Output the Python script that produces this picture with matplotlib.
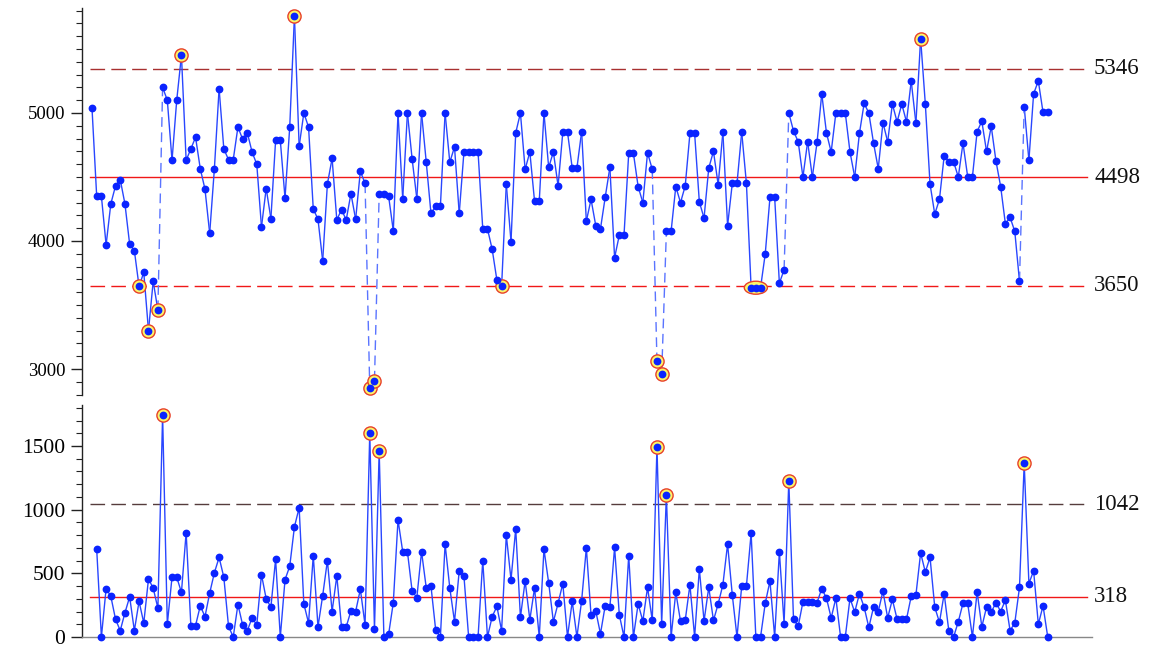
import numpy as np
import matplotlib
matplotlib.use("Agg")
import matplotlib.pyplot as plt
from matplotlib.collections import LineCollection
from matplotlib.patches import Ellipse
from matplotlib.ticker import MultipleLocator

# Individual measurements
values = [
    5040, 4350, 4350, 3970, 4290, 4430, 4480, 4290, 3975, 3925,
    3645, 3755, 3300, 3685, 3460, 5200, 5100, 4630, 5100, 5450,
    4630, 4720, 4810, 4565, 4405, 4060, 4565, 5190, 4720, 4635,
    4635, 4890, 4795, 4845, 4695, 4600, 4110, 4410, 4175, 4785,
    4785, 4335, 4890, 5755, 4740, 5000, 4890, 4250, 4170, 3845,
    4445, 4645, 4165, 4245, 4165, 4370, 4170, 4545, 4450, 2850,
    2910, 4370, 4370, 4350, 4080, 5000, 4330, 5000, 4640, 4330,
    5000, 4615, 4215, 4270, 4270, 5000, 4615, 4735, 4215, 4695,
    4695, 4695, 4695, 4095, 4095, 3935, 3695, 3645, 4445, 3995,
    4845, 5000, 4560, 4695, 4310, 4310, 5000, 4575, 4695, 4430,
    4850, 4850, 4570, 4570, 4855, 4155, 4325, 4120, 4095, 4340,
    4575, 3870, 4045, 4045, 4685, 4685, 4425, 4300, 4690, 4560,
    3065, 2960, 4075, 4075, 4425, 4300, 4430, 4840, 4840, 4305,
    4180, 4570, 4700, 4440, 4850, 4120, 4450, 4450, 4850, 4450,
    3635, 3635, 3635, 3900, 4340, 4340, 3670, 3775, 5000, 4860,
    4775, 4500, 4775, 4500, 4770, 5150, 4845, 4695, 5000, 5000,
    5000, 4695, 4500, 4840, 5075, 5000, 4765, 4565, 4925, 4775,
    5070, 4930, 5070, 4930, 5250, 4920, 5580, 5070, 4445, 4210,
    4325, 4665, 4620, 4620, 4500, 4765, 4500, 4500, 4855, 4935,
    4700, 4895, 4625, 4425, 4135, 4185, 4075, 3685, 5050, 4630,
    5150, 5250, 5005, 5005,
]

# Control limits
x_center = 4498
x_ucl = 5346
x_lcl = 3650
mr_center = 318
mr_ucl = 1042

x = np.array(values, dtype=float)
idx = np.arange(len(x))
mr = np.abs(np.diff(x))          # moving range of two
mr_idx = idx[1:]

plt.rcParams["font.family"] = ["Liberation Serif", "DejaVu Serif"]
FS_TOP = 13.5
FS_BOT = 15.5
FS_RIGHT = 16.5

BLUE = "#0a23ff"
LINE_BLUE = "#2946ff"
DASH_BLUE = "#5a74ff"
RED = "#f01818"
UCL_RED = "#a83030"
DARK = "#553c3c"

fig = plt.figure(figsize=(11.5, 6.45), dpi=100)
W, H = 1150, 645
left_px, right_px = 82, 1092
xl = (-2.12, 212.4)

def px_axes(top_px, bottom_px):
    return fig.add_axes([left_px / W, 1 - bottom_px / H,
                         (right_px - left_px) / W, (bottom_px - top_px) / H])

ax1 = px_axes(8, 395)
ax2 = px_axes(405, 637)

for ax, fs in ((ax1, FS_TOP), (ax2, FS_BOT)):
    ax.set_xlim(*xl)
    ax.set_facecolor("none")
    for s in ("top", "right", "bottom"):
        ax.spines[s].set_visible(False)
    ax.spines["left"].set_color("#222222")
    ax.spines["left"].set_linewidth(1.0)
    ax.tick_params(axis="x", bottom=False, labelbottom=False)
    ax.tick_params(axis="y", which="major", length=8, width=1.0,
                   color="#222222", labelsize=fs, pad=4)
    ax.tick_params(axis="y", which="minor", length=4, width=0.8,
                   color="#222222")
    ax.yaxis.set_minor_locator(MultipleLocator(100))

ax1.set_ylim(2797, 5820)
ax1.yaxis.set_major_locator(MultipleLocator(1000))
ax2.set_ylim(0, 1822)
ax2.yaxis.set_major_locator(MultipleLocator(500))
ax2.spines["bottom"].set_visible(True)
ax2.spines["bottom"].set_color("#888888")
ax2.spines["bottom"].set_linewidth(1.0)

line_span = dict(xmin=(90 - left_px) / (right_px - left_px),
                 xmax=(1087 - left_px) / (right_px - left_px))
dash_pat = (10.5, 4.5)

# Limits and center lines
ax1.axhline(x_center, color=RED, lw=1.0, zorder=1, **line_span)
ax1.axhline(x_ucl, color=UCL_RED, lw=1.0, dashes=dash_pat, zorder=1, **line_span)
ax1.axhline(x_lcl, color=RED, lw=1.0, dashes=dash_pat, zorder=1, **line_span)
ax2.axhline(mr_center, color=RED, lw=1.0, zorder=1, **line_span)
ax2.axhline(mr_ucl, color=DARK, lw=1.0, dashes=dash_pat, zorder=1, **line_span)

def right_label(ax, y, text):
    ax.text(1.002, y, str(text), transform=ax.get_yaxis_transform(),
            ha="left", va="center", fontsize=FS_RIGHT, color="#111111")

right_label(ax1, x_ucl, x_ucl)
right_label(ax1, x_center, x_center)
right_label(ax1, x_lcl, x_lcl)
right_label(ax2, mr_ucl, mr_ucl)
right_label(ax2, mr_center, mr_center)

# Individuals line: dashed where the moving range is out of control
segs = np.stack([np.column_stack([idx[:-1], x[:-1]]),
                 np.column_stack([idx[1:], x[1:]])], axis=1)
jump = mr > mr_ucl
ax1.add_collection(LineCollection(segs[~jump], colors=LINE_BLUE,
                                  linewidths=1.0, zorder=2))
ax1.add_collection(LineCollection(segs[jump], colors=DASH_BLUE,
                                  linewidths=1.0, linestyles=[(0, (7, 4))],
                                  zorder=2))

# Out-of-control highlights
def highlight(ax, xi, yi, flags, px_per_unit_y, px_per_unit_x=4.708):
    i = 0
    n = len(xi)
    while i < n:
        if not flags[i]:
            i += 1
            continue
        j = i
        while j + 1 < n and flags[j + 1] and yi[j + 1] == yi[i]:
            j += 1
        if j > i:
            cx = (xi[i] + xi[j]) / 2
            w = (xi[j] - xi[i]) + 13 / px_per_unit_x * 1.05
            h = 13 / px_per_unit_y
            ax.add_patch(Ellipse((cx, yi[i]), w, h, facecolor="#fbf56a",
                                 edgecolor="#e8402a", lw=1.0, zorder=3,
                                 clip_on=False))
        else:
            ax.plot(xi[i], yi[i], "o", ms=9.5, mfc="#fbf56a", mec="#e8402a",
                    mew=1.0, zorder=3, clip_on=False)
        i = j + 1

highlight(ax1, idx, x, (x > x_ucl) | (x < x_lcl), 0.128)
highlight(ax2, mr_idx, mr, mr > mr_ucl, 0.12733)

ax1.plot(idx, x, "o", ms=4.6, color=BLUE, zorder=4, clip_on=False)

ax2.plot(mr_idx, mr, "-", color=LINE_BLUE, lw=1.0, zorder=2, clip_on=False)
ax2.plot(mr_idx, mr, "o", ms=4.6, color=BLUE, zorder=4, clip_on=False)

fig.savefig("out.png", dpi=100)
